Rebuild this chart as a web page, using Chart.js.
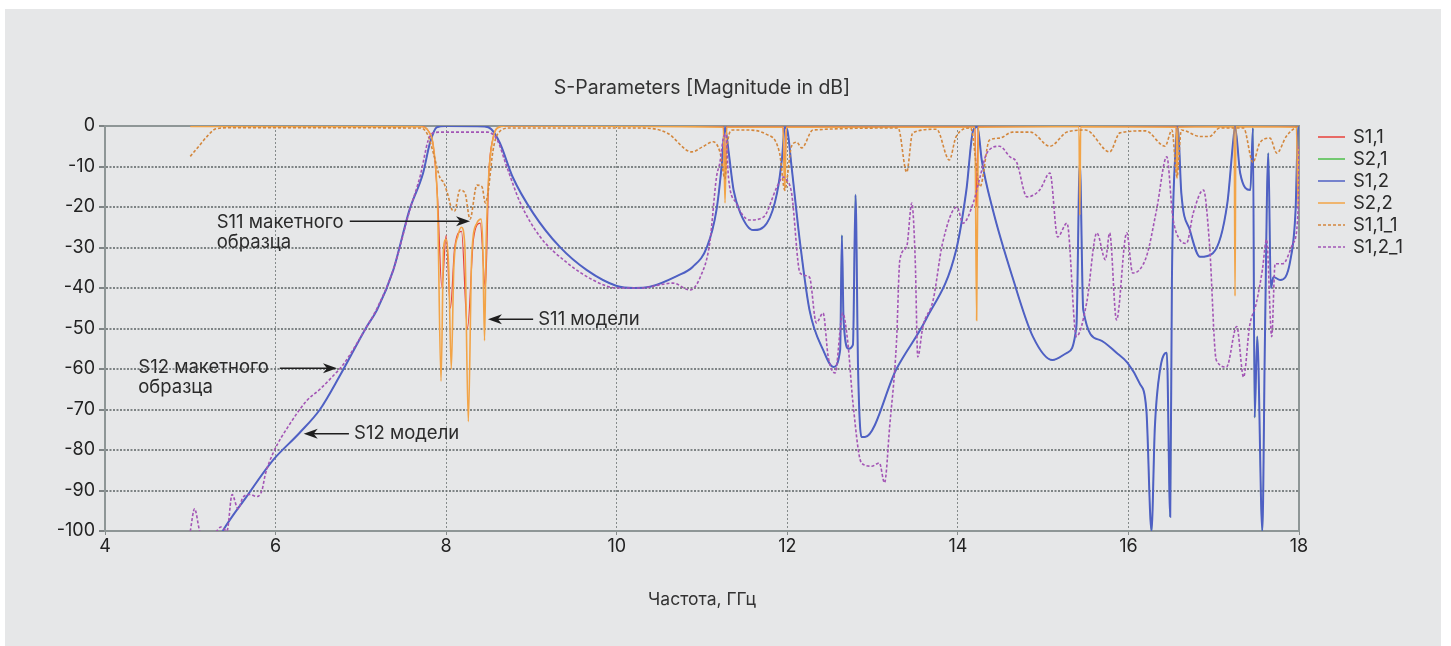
<!DOCTYPE html>
<html>
<head>
<meta charset="utf-8">
<script src="https://cdn.jsdelivr.net/npm/chart.js@4.4.1/dist/chart.umd.min.js"></script>
<style>
  html, body { margin: 0; background: #fff; }
  #box { position: absolute; left: 5px; top: 9px; width: 1436px; height: 637px; background: #e6e7e8; }
  canvas { display: block; }
</style>
</head>
<body>
<div id="box"><canvas id="chart" width="1436" height="637"></canvas></div>
<script>
const FONT = 'Inter, "Open Sans", sans-serif';

const xTicks = [4, 6, 8, 10, 12, 14, 16, 18];
const yTicks = [0, -10, -20, -30, -40, -50, -60, -70, -80, -90, -100];

// S2,2 model (solid orange)
const s22Freq = [5.0, 7.7, 7.8, 7.85, 7.9, 7.94, 7.97, 8.0, 8.03, 8.06, 8.09, 8.14, 8.18, 8.22, 8.26, 8.3, 8.36, 8.41, 8.43, 8.45, 8.47, 8.5, 8.55, 8.6, 8.7,
  11.25, 11.27, 11.29, 11.95, 11.97, 11.99, 14.2, 14.22, 14.24, 15.42, 15.43, 15.44, 16.56, 16.57, 16.58, 17.24, 17.25, 17.26, 17.97, 17.99, 18.0];
const s22Db = [-0.1, -0.2, -1.5, -5, -20, -63, -30, -28, -35, -60, -35, -27, -25, -30, -73, -32, -24, -23, -30, -53, -28, -12, -3, -0.5, 0,
  -0.3, -19, -0.3, -0.3, -16, -0.3, -0.3, -48, -0.3, -0.2, -22, -0.2, -0.3, -13, -0.3, -0.2, -42, -0.2, -0.3, -20, -5];

// S1,1 model (solid red, mostly under S2,2)
const s11Freq = [5.0, 7.7, 7.8, 7.85, 7.9, 7.95, 8.0, 8.05, 8.1, 8.18, 8.25, 8.32, 8.4, 8.46, 8.5, 8.55, 8.6, 8.7,
  11.25, 11.27, 11.29, 11.95, 11.97, 11.99, 14.2, 14.22, 14.24, 16.56, 16.57, 16.58, 18.0];
const s11Db = [0, 0, -1.5, -5, -18, -40, -27, -45, -30, -26, -50, -28, -24, -40, -12, -3, -0.5, 0,
  0, -15, 0, 0, -12, 0, 0, -20, 0, 0, -10, 0, 0];

// S1,2 model (solid blue)
const s12Freq = [5.0, 5.38, 5.66, 5.97, 6.28, 6.52, 6.75, 7.07, 7.19, 7.38, 7.57, 7.73, 7.81, 7.89, 8.0, 8.45, 8.53, 8.63, 8.78, 9.02, 9.33, 9.65, 10.0, 10.2, 10.39, 10.71, 10.89, 11.06, 11.17, 11.23, 11.27,
  11.31, 11.37, 11.45, 11.6, 11.76, 11.88, 11.94, 11.97, 12.0, 12.05, 12.15, 12.26, 12.42, 12.54, 12.62, 12.64, 12.66, 12.72, 12.77, 12.8, 12.83, 12.87, 12.91,
  13.28, 13.63, 13.98, 14.1, 14.18, 14.23, 14.28, 14.41, 14.64, 14.88, 15.11, 15.28, 15.39, 15.43, 15.47, 15.66, 15.86, 15.99, 16.13, 16.21, 16.27, 16.31, 16.37, 16.45, 16.49, 16.51, 16.55, 16.58,
  16.62, 16.72, 16.84, 16.99, 17.16, 17.23, 17.25, 17.31, 17.43, 17.46, 17.48, 17.51, 17.57, 17.6, 17.64, 17.67, 17.7, 17.78, 17.9, 17.96, 17.99, 18.0];
const s12Db = [-115, -100, -91.5, -82.5, -75.8, -70, -61.8, -49.5, -45.4, -35.6, -20.7, -11.6, -4.2, -0.3, 0, -0.1, -0.8, -4.2, -12.6, -21.5, -29.8, -35.6, -39.5, -40, -39.7, -37, -34.8, -29.8, -20.7, -10, -0.3,
  -6, -15.8, -21.5, -25.7, -24, -16.5, -7.6, -0.3, -1, -10, -28.9, -45.4, -55.3, -59.5, -55.3, -27, -48, -55, -54, -17, -60, -76.8, -76.8,
  -60, -47.6, -30.6, -15.8, -1, -0.2, -8.4, -20.7, -37.3, -52, -57.8, -56, -49.5, -9, -45.4, -52.8, -56, -58.5, -63.5, -70, -100, -74.3, -60.3, -56, -96.5, -38, -6.7, -0.2,
  -16.5, -25.7, -32.3, -31.4, -19, -3.4, -0.2, -11.6, -15.8, -0.5, -72, -52, -100, -53.5, -6.7, -40, -37.3, -38, -33, -20.7, -0.2, -1];

// S2,1 model (solid green) lies under S1,2 - same readings
const s21Freq = s12Freq;
const s21Db = s12Db;

// S1,1_1 measured (dotted brown-orange)
const m11Freq = [5.0, 5.1, 5.2, 5.3, 5.5, 7.7, 7.78, 7.85, 7.93, 7.97, 8.02, 8.07, 8.1, 8.16, 8.22, 8.28, 8.36, 8.42, 8.46, 8.49, 8.55, 8.61, 8.75,
  10.3, 10.59, 10.88, 11.01, 11.13, 11.21, 11.27, 11.3, 11.36, 11.52, 11.75, 11.91, 11.97, 12.05, 12.11, 12.17, 12.3, 13.3, 13.4, 13.47, 13.75, 13.9, 13.98,
  14.15, 14.26, 14.37, 14.49, 14.64, 14.85, 15.08, 15.28, 15.5, 15.78, 15.9, 16.2, 16.43, 16.51, 16.57, 16.62, 16.84, 16.95, 17.07, 17.35, 17.46, 17.54, 17.66, 17.74, 17.85, 17.97, 18.0];
const m11Db = [-7.5, -5, -2.5, -0.7, -0.4, -0.5, -2, -6.7, -12.9, -13.9, -17, -20.7, -21, -15.8, -16.5, -23, -14.6, -15, -19, -16.6, -6, -1.8, -0.5,
  -0.5, -1.7, -6.4, -5.1, -3.9, -6.4, -13, -4, -1, -1, -2, -6.7, -15.8, -5, -4, -5.4, -1, -0.5, -11.4, -1.7, -0.8, -8.4, -2.6,
  -0.5, -15, -3.5, -3, -1.5, -1.5, -5, -1.5, -1, -6.4, -1.7, -1.2, -5, -1, -12.6, -1, -2.6, -2.6, -0.5, -0.5, -9, -4.2, -3, -6.7, -2.6, -0.2, 0];

// S1,2_1 measured (dotted purple)
const m12Freq = [5.0, 5.05, 5.11, 5.2, 5.31, 5.36, 5.43, 5.49, 5.56, 5.62, 5.7, 5.78, 5.84, 5.88, 5.97, 6.17, 6.37, 6.52, 6.67, 6.79, 7.07, 7.19, 7.38, 7.57, 7.7, 7.79, 7.85, 7.97,
  8.48, 8.6, 8.71, 8.87, 9.1, 9.42, 9.72, 10.0, 10.27, 10.66, 10.86, 10.98, 11.09, 11.17, 11.21, 11.25, 11.28, 11.31, 11.4, 11.56, 11.72, 11.88, 11.95, 11.98, 12.05,
  12.15, 12.26, 12.34, 12.42, 12.48, 12.56, 12.65, 12.71, 12.77, 12.87, 12.99, 13.08, 13.14, 13.2, 13.28, 13.32, 13.4, 13.46, 13.5, 13.53, 13.59, 13.71, 13.82, 13.99, 14.06, 14.18, 14.26, 14.34,
  14.49, 14.61, 14.69, 14.81, 14.96, 15.08, 15.17, 15.28, 15.39, 15.51, 15.63, 15.73, 15.78, 15.86, 15.98, 16.05, 16.21, 16.33, 16.45, 16.52, 16.6, 16.68, 16.76, 16.88, 16.95,
  17.03, 17.15, 17.27, 17.35, 17.42, 17.5, 17.57, 17.62, 17.68, 17.72, 17.81, 17.93, 17.99, 18.0];
const m12Db = [-100, -94.5, -100, -103, -100, -99, -100, -91, -94.5, -91.6, -91, -91.5, -90, -86, -80.8, -73.5, -67.7, -65, -61.8, -59, -49.5, -45, -35.5, -21, -12, -3.5, -1.7, -1.5,
  -1.5, -3.5, -10, -19, -27.3, -33.8, -38, -40, -40, -38.8, -40.5, -37.3, -29, -12.6, -9, -3, -2, -12.6, -19, -23.2, -22.5, -15, -12.6, -13, -16.5,
  -36.3, -37.3, -48.6, -46.2, -57, -61, -46.2, -53.5, -68.4, -83.2, -84, -83.2, -88.1, -74.3, -53.5, -33, -29.8, -19, -33, -57, -49.5, -43, -29, -20, -24, -19, -12.6, -6.7,
  -5, -7.6, -9, -17.5, -15.8, -11.6, -27.4, -24, -52, -43.7, -26.4, -33, -26.4, -47.9, -26.4, -36.3, -32.3, -20.7, -7.6, -22.5, -28, -29, -21.5, -15.8, -29,
  -57.8, -59.5, -49.5, -62, -49.5, -43.7, -35.6, -28, -52, -34, -34, -29, -20.7, -5];

// callouts: text anchor and arrow in data units (GHz, dB)
const notes = [
  { lines: ['S11 макетного', 'образца'], x: 5.31, y: -23.7, from: [6.87, -23.5], to: [8.28, -23.5] },
  { lines: ['S11 модели'], x: 9.08, y: -47.7, from: [9.02, -47.7], to: [8.49, -47.7] },
  { lines: ['S12 макетного', 'образца'], x: 4.39, y: -59.5, from: [6.05, -59.8], to: [6.72, -59.8] },
  { lines: ['S12 модели'], x: 6.92, y: -76, from: [6.86, -76], to: [6.33, -76] }
];

function pts(f, d) {
  return f.map((x, i) => ({ x: x, y: d[i] }));
}

const notesPlugin = {
  id: 'notes',
  afterDatasetsDraw(chart) {
    const { ctx, scales: { x, y } } = chart;
    ctx.save();
    ctx.font = '18.5px ' + FONT;
    ctx.fillStyle = '#2b2b2b';
    ctx.strokeStyle = '#1e1e1e';
    ctx.lineWidth = 1.5;
    ctx.textBaseline = 'middle';
    notes.forEach(n => {
      const tx = x.getPixelForValue(n.x);
      n.lines.forEach((t, i) => ctx.fillText(t, tx, y.getPixelForValue(n.y) + i * 20));
      const x1 = x.getPixelForValue(n.from[0]), y1 = y.getPixelForValue(n.from[1]);
      const x2 = x.getPixelForValue(n.to[0]), y2 = y.getPixelForValue(n.to[1]);
      const dir = Math.sign(x2 - x1);
      ctx.beginPath();
      ctx.moveTo(x1, y1);
      ctx.lineTo(x2 - dir * 8, y2);
      ctx.stroke();
      ctx.beginPath();
      ctx.moveTo(x2, y2);
      ctx.lineTo(x2 - dir * 14, y2 - 5);
      ctx.lineTo(x2 - dir * 10, y2);
      ctx.lineTo(x2 - dir * 14, y2 + 5);
      ctx.closePath();
      ctx.fillStyle = '#1e1e1e';
      ctx.fill();
      ctx.fillStyle = '#2b2b2b';
    });
    ctx.restore();
  }
};

const framePlugin = {
  id: 'frame',
  beforeDatasetsDraw(chart) {
    const { ctx, chartArea: a } = chart;
    ctx.save();
    ctx.strokeStyle = '#8e9696';
    ctx.lineWidth = 2;
    ctx.beginPath();
    ctx.moveTo(a.left, a.top);
    ctx.lineTo(a.right, a.top);
    ctx.lineTo(a.right, a.bottom);
    ctx.stroke();
    // title centred on the plot area
    ctx.font = '19.5px ' + FONT;
    ctx.fillStyle = '#333';
    ctx.textAlign = 'center';
    ctx.textBaseline = 'middle';
    ctx.fillText('S-Parameters [Magnitude in dB]', (a.left + a.right) / 2, 79);
    ctx.restore();
  }
};

const legendPlugin = {
  id: 'sideLegend',
  afterDraw(chart) {
    const { ctx, chartArea: a } = chart;
    ctx.save();
    ctx.font = '18.5px ' + FONT;
    ctx.textBaseline = 'middle';
    chart.data.datasets.forEach((ds, i) => {
      const yy = a.top + 11 + i * 22;
      const x0 = a.right + 19;
      ctx.strokeStyle = ds.borderColor;
      ctx.lineWidth = 1.5;
      ctx.setLineDash(ds.borderDash || []);
      ctx.beginPath();
      ctx.moveTo(x0, yy);
      ctx.lineTo(x0 + 27, yy);
      ctx.stroke();
      ctx.setLineDash([]);
      ctx.fillStyle = '#2b2b2b';
      ctx.fillText(ds.label, x0 + 35, yy);
    });
    ctx.restore();
  }
};

const base = { borderWidth: 1.6, pointRadius: 0, cubicInterpolationMode: 'monotone', fill: false };

new Chart(document.getElementById('chart'), {
  type: 'line',
  data: {
    datasets: [
      Object.assign({}, base, { label: 'S1,1', data: pts(s11Freq, s11Db), borderColor: '#e8403a', borderWidth: 1.2, order: 5 }),
      Object.assign({}, base, { label: 'S2,1', data: pts(s21Freq, s21Db), borderColor: '#4cbf4a', borderWidth: 0.6, order: 4 }),
      Object.assign({}, base, { label: 'S1,2', data: pts(s12Freq, s12Db), borderColor: '#4f60c4', borderWidth: 2, order: 3 }),
      Object.assign({}, base, { label: 'S2,2', data: pts(s22Freq, s22Db), borderColor: '#f2a447', order: 2 }),
      Object.assign({}, base, { label: 'S1,1_1', data: pts(m11Freq, m11Db), borderColor: '#d3873d', borderDash: [3, 2], order: 1 }),
      Object.assign({}, base, { label: 'S1,2_1', data: pts(m12Freq, m12Db), borderColor: '#a355b5', borderDash: [3, 2], order: 0 })
    ]
  },
  options: {
    responsive: false,
    animation: false,
    layout: { padding: { left: 0, right: 142, top: 117, bottom: 0 } },
    plugins: {
      legend: { display: false },
      tooltip: { enabled: false },
      title: { display: false }
    },
    scales: {
      x: {
        type: 'linear',
        min: 4,
        max: 18,
        afterBuildTicks: s => { s.ticks = xTicks.map(v => ({ value: v })); },
        afterFit: s => { s.height = 115; },
        ticks: { color: '#222', font: { family: FONT, size: 18 }, padding: 1, maxRotation: 0 },
        grid: { color: 'rgba(100,108,108,0.75)', lineWidth: 1, tickLength: 4 },
        border: { color: '#8e9696', width: 2, dash: [2, 2] },
        title: {
          display: true,
          text: 'Частота, ГГц',
          color: '#333',
          font: { family: FONT, size: 17.5 },
          padding: { top: 0, bottom: 36 }
        }
      },
      y: {
        min: -100,
        max: 0,
        afterBuildTicks: s => { s.ticks = yTicks.map(v => ({ value: v })); },
        afterFit: s => { s.width = 100; },
        ticks: { color: '#222', font: { family: FONT, size: 18 }, padding: 4 },
        grid: { color: 'rgba(100,108,108,0.8)', lineWidth: 2, tickLength: 6 },
        border: { color: '#8e9696', width: 2, dash: [2, 1.5] }
      }
    }
  },
  plugins: [framePlugin, notesPlugin, legendPlugin]
});
</script>
</body>
</html>
